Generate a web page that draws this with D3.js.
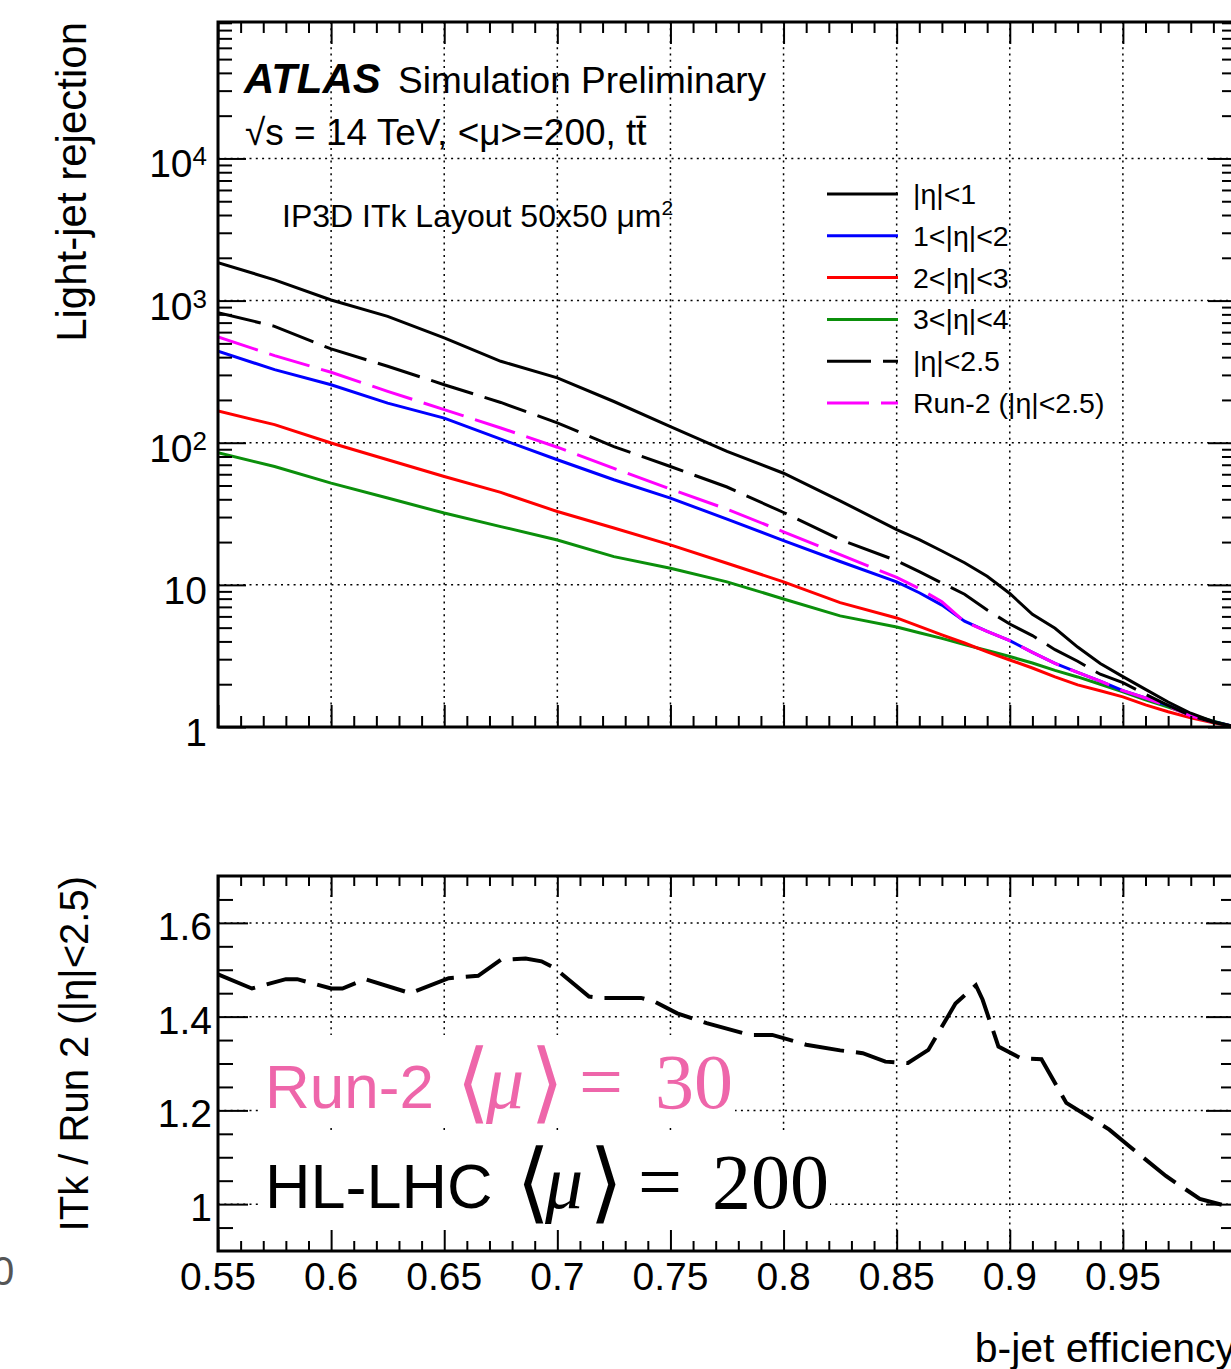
<!DOCTYPE html>
<html>
<head>
<meta charset="utf-8">
<script src="https://cdn.jsdelivr.net/npm/d3@7"></script>
<style>
  body { margin: 0; background: #fff; }
  svg { display: block; }
  text { font-family: "Liberation Sans", Arial, Helvetica, sans-serif; }
</style>
</head>
<body>
<div id="chart"></div>
<script>
// b-jet efficiency points shared by all curves of the upper panel
var effs = [0.55, 0.575, 0.6, 0.625, 0.65, 0.675, 0.7, 0.725, 0.75, 0.775, 0.8, 0.825, 0.85,
            0.86, 0.87, 0.88, 0.89, 0.9, 0.91, 0.92, 0.93, 0.94, 0.95, 0.96, 0.97, 0.98, 0.99, 1.0];
// light-jet rejection
var rejEta01 = [1850, 1400, 1010, 775, 546, 374, 286, 195, 130, 87, 61, 39, 24.5,
                20.8, 17.3, 14.3, 11.5, 8.7, 6.2, 4.95, 3.65, 2.8, 2.26, 1.84, 1.5, 1.25, 1.09, 1.0];
var rejEta12 = [440, 327, 256, 190, 149, 106, 75.9, 54.9, 40.8, 29, 20.5, 14.6, 10.5,
                8.8, 7.2, 5.55, 4.7, 4.05, 3.35, 2.8, 2.42, 2.1, 1.8, 1.6, 1.42, 1.22, 1.09, 1.0];
var rejEta23 = [167, 134, 99.5, 75.9, 57.9, 44.7, 32.8, 25.1, 19.1, 14.2, 10.5, 7.5, 5.85,
                5.1, 4.45, 3.9, 3.38, 2.96, 2.6, 2.25, 1.98, 1.8, 1.63, 1.43, 1.28, 1.16, 1.07, 1.0];
var rejEta34 = [85, 68, 52, 40.8, 32, 25.7, 20.7, 15.8, 13.1, 10.5, 7.96, 6.05, 5.05,
                4.6, 4.2, 3.8, 3.45, 3.13, 2.82, 2.5, 2.25, 2.0, 1.77, 1.55, 1.38, 1.22, 1.1, 1.0];
var rejEta025 = [823, 659, 457, 345, 256, 192, 138, 94, 68, 48.8, 32.3, 20.8, 14.8,
                 12.4, 10.3, 8.6, 6.65, 5.3, 4.4, 3.5, 2.9, 2.35, 2.05, 1.7, 1.42, 1.2, 1.08, 1.0];
var rejRun2 = [555, 410, 313, 230, 171, 127, 93, 66, 47.2, 34.1, 23.6, 16.3, 11.3,
               9.4, 7.6, 5.5, 4.7, 4.05, 3.35, 2.8, 2.42, 2.1, 1.8, 1.6, 1.4, 1.2, 1.08, 1.0];
var seriesNames = ["|\u03B7|<1", "1<|\u03B7|<2", "2<|\u03B7|<3", "3<|\u03B7|<4", "|\u03B7|<2.5", "Run-2 (|\u03B7|<2.5)"];

// ratio ITk / Run 2 in the lower panel
var ratioEffs = [0.55, 0.565, 0.58, 0.585, 0.6, 0.605, 0.615, 0.635, 0.652, 0.665, 0.675, 0.686, 0.693,
                 0.699, 0.714, 0.719, 0.737, 0.743, 0.753, 0.766, 0.785, 0.795, 0.81, 0.825, 0.835,
                 0.845, 0.855, 0.864, 0.876, 0.885, 0.888, 0.895, 0.905, 0.914, 0.925, 0.944, 0.953,
                 0.969, 0.984, 0.995];
var ratioVals = [1.49, 1.46, 1.48, 1.48, 1.46, 1.46, 1.48, 1.45, 1.482, 1.487, 1.521, 1.524, 1.518,
                 1.503, 1.443, 1.44, 1.44, 1.432, 1.407, 1.386, 1.361, 1.361, 1.34, 1.328, 1.322,
                 1.304, 1.301, 1.329, 1.428, 1.467, 1.436, 1.336, 1.311, 1.309, 1.216, 1.159, 1.123,
                 1.06, 1.011, 0.997];

// ticks and tick labels (the label of 1 falls outside the picture)
var xTicks = [0.55, 0.6, 0.65, 0.7, 0.75, 0.8, 0.85, 0.9, 0.95, 1.0];
var xTickLabels = ["0.55", "0.6", "0.65", "0.7", "0.75", "0.8", "0.85", "0.9", "0.95"];
var yTopTicks = [1, 10, 100, 1000, 10000];
var yTopTickBase = ["1", "10", "10", "10", "10"];
var yTopTickExp = ["", "", "2", "3", "4"];
var yBotTicks = [1.0, 1.2, 1.4, 1.6];
var yBotTickLabels = ["1", "1.2", "1.4", "1.6"];

(function(){
    var svg;
    var FONT = '"Liberation Sans", Arial, Helvetica, sans-serif';
    var SERIF = '"Liberation Serif", "Times New Roman", serif';

    var Chart = {
        dim: { w: 1231, h: 1369, left: 218, right: 1236,
               top0: 22, top1: 727, bot0: 876, bot1: 1251 },
        init: function() {
            svg = d3.select("#chart").append("svg")
                .attr("width", this.dim.w)
                .attr("height", this.dim.h);
            this.x = d3.scaleLinear().domain([0.55, 1.0]).range([this.dim.left, this.dim.right]);
            this.yTop = d3.scaleLog().domain([1, Math.pow(10, 4.96)]).range([this.dim.top1, this.dim.top0]);
            this.yBot = d3.scaleLinear().domain([0.9, 1.7]).range([this.dim.bot1, this.dim.bot0]);
            this.drawTop();
            this.drawBottom();
            this.drawTitles();
        },
        // dotted grid at the major ticks
        grid: function(g, xs, ys, yScale, y0, y1) {
            var x = this.x, d = this.dim;
            g.selectAll("line.gx").data(xs).enter().append("line")
                .attr("x1", function(v){ return x(v); }).attr("x2", function(v){ return x(v); })
                .attr("y1", y0).attr("y2", y1);
            g.selectAll("line.gy").data(ys).enter().append("line")
                .attr("x1", d.left).attr("x2", d.right)
                .attr("y1", function(v){ return yScale(v); }).attr("y2", function(v){ return yScale(v); });
            g.selectAll("line").attr("stroke", "#000").attr("stroke-width", 1.5)
                .attr("stroke-dasharray", "2,4.3");
        },
        // inward ticks on all four sides, using d3 axes without labels
        ticks: function(yScale, yMajor, yMinor, y0, y1, xLen, yLen) {
            var x = this.x, d = this.dim;
            var xMinor = d3.range(56, 100).filter(function(v){ return v % 5 !== 0; })
                .map(function(v){ return v / 100; });
            var axes = [
                [d3.axisTop(x).tickValues(xTicks).tickSize(xLen[0]), "translate(0," + y1 + ")"],
                [d3.axisTop(x).tickValues(xMinor).tickSize(xLen[1]), "translate(0," + y1 + ")"],
                [d3.axisBottom(x).tickValues(xTicks).tickSize(xLen[0]), "translate(0," + y0 + ")"],
                [d3.axisBottom(x).tickValues(xMinor).tickSize(xLen[1]), "translate(0," + y0 + ")"],
                [d3.axisRight(yScale).tickValues(yMajor).tickSize(yLen[0]), "translate(" + d.left + ",0)"],
                [d3.axisRight(yScale).tickValues(yMinor).tickSize(yLen[1]), "translate(" + d.left + ",0)"],
                [d3.axisLeft(yScale).tickValues(yMajor).tickSize(yLen[0]), "translate(" + d.right + ",0)"],
                [d3.axisLeft(yScale).tickValues(yMinor).tickSize(yLen[1]), "translate(" + d.right + ",0)"]
            ];
            axes.forEach(function(a){
                var g = svg.append("g").attr("transform", a[1]).call(a[0].tickFormat(""));
                g.select(".domain").remove();
                g.selectAll("line").attr("stroke", "#000").attr("stroke-width", 2);
            });
            svg.append("rect")
                .attr("x", d.left).attr("y", y0)
                .attr("width", d.right - d.left).attr("height", y1 - y0)
                .attr("fill", "none").attr("stroke", "#000").attr("stroke-width", 3);
        },
        drawTop: function() {
            var x = this.x, y = this.yTop, d = this.dim;
            this.grid(svg.append("g"), xTicks.slice(1, 9), [10, 100, 1000, 10000], y, d.top0, d.top1);

            // curves
            var styles = [
                { vals: rejEta01, color: "#000000", dash: null },
                { vals: rejEta12, color: "#0000ff", dash: null },
                { vals: rejEta23, color: "#ff0000", dash: null },
                { vals: rejEta34, color: "#0b8f0b", dash: null },
                { vals: rejEta025, color: "#000000", dash: "44,12" },
                { vals: rejRun2, color: "#ff00ff", dash: "42,12" }
            ];
            svg.append("clipPath").attr("id", "clipTop").append("rect")
                .attr("x", d.left).attr("y", d.top0)
                .attr("width", d.right - d.left).attr("height", d.top1 - d.top0);
            var line = d3.line()
                .x(function(p){ return x(p[0]); })
                .y(function(p){ return y(p[1]); });
            var order = [3, 2, 1, 5, 4, 0];
            svg.append("g").attr("clip-path", "url(#clipTop)")
                .selectAll("path").data(order.map(function(i){ return styles[i]; }))
                .enter().append("path")
                .attr("d", function(s){ return line(d3.zip(effs, s.vals)); })
                .attr("fill", "none")
                .attr("stroke", function(s){ return s.color; })
                .attr("stroke-width", 3)
                .attr("stroke-dasharray", function(s){ return s.dash; });

            // legend
            var leg = svg.append("g").selectAll("g").data(styles).enter().append("g")
                .attr("transform", function(s, i){ return "translate(827," + (194 + i * 41.8) + ")"; });
            leg.append("line").attr("x1", 0).attr("x2", 71).attr("y1", 0).attr("y2", 0)
                .attr("stroke", function(s){ return s.color; })
                .attr("stroke-width", 3)
                .attr("stroke-dasharray", function(s){ return s.dash; });
            leg.append("text").attr("x", 86).attr("y", 10)
                .attr("font-size", 28.5)
                .text(function(s, i){ return seriesNames[i]; });

            // y labels with exponents
            var minor = [];
            [0, 1, 2, 3, 4].forEach(function(e){
                for (var m = 2; m <= 9; m++) {
                    var v = m * Math.pow(10, e);
                    if (v < Math.pow(10, 4.96)) minor.push(v);
                }
            });
            var lab = svg.append("g").selectAll("text").data(yTopTicks).enter().append("text")
                .attr("x", 207).attr("y", function(v){ return y(v) + 19; })
                .attr("text-anchor", "end").attr("font-size", 39);
            lab.append("tspan").text(function(v, i){ return yTopTickBase[i]; });
            lab.append("tspan").attr("font-size", 26).attr("dy", -12)
                .text(function(v, i){ return yTopTickExp[i]; });

            this.ticks(y, yTopTicks, minor, d.top0, d.top1, [22, 11], [28, 14]);
        },
        drawBottom: function() {
            var x = this.x, y = this.yBot, d = this.dim;
            this.grid(svg.append("g"), xTicks.slice(1, 9), yBotTicks, y, d.bot0, d.bot1);

            // white boxes behind the annotations
            svg.append("rect").attr("x", 258).attr("y", 1035).attr("width", 477).attr("height", 93).attr("fill", "#fff");
            svg.append("rect").attr("x", 258).attr("y", 1133).attr("width", 572).attr("height", 118).attr("fill", "#fff");

            var pink = "#ee66aa";
            var notes = [
                { t: "Run-2", x: 265, y: 1108, f: FONT, s: 62, c: pink },
                { t: "\u27E8", x: 456, y: 1112, f: SERIF, s: 88, c: pink },
                { t: "\u03BC", x: 486, y: 1108, f: SERIF, s: 76, c: pink, it: true },
                { t: "\u27E9", x: 530, y: 1112, f: SERIF, s: 88, c: pink },
                { t: "=", x: 579, y: 1108, f: SERIF, s: 78, c: pink },
                { t: "30", x: 655, y: 1108, f: SERIF, s: 78, c: pink },
                { t: "HL-LHC", x: 265, y: 1208, f: FONT, s: 63, c: "#000" },
                { t: "\u27E8", x: 516, y: 1212, f: SERIF, s: 88, c: "#000" },
                { t: "\u03BC", x: 545, y: 1208, f: SERIF, s: 76, c: "#000", it: true },
                { t: "\u27E9", x: 589, y: 1212, f: SERIF, s: 88, c: "#000" },
                { t: "=", x: 638, y: 1208, f: SERIF, s: 78, c: "#000" },
                { t: "200", x: 712, y: 1208, f: SERIF, s: 78, c: "#000" }
            ];
            svg.append("g").selectAll("text").data(notes).enter().append("text")
                .attr("x", function(n){ return n.x; }).attr("y", function(n){ return n.y; })
                .attr("font-size", function(n){ return n.s; })
                .attr("fill", function(n){ return n.c; })
                .style("font-family", function(n){ return n.f; })
                .style("font-style", function(n){ return n.it ? "italic" : "normal"; })
                .text(function(n){ return n.t; });

            // ratio curve
            svg.append("clipPath").attr("id", "clipBot").append("rect")
                .attr("x", d.left).attr("y", d.bot0)
                .attr("width", d.right - d.left).attr("height", d.bot1 - d.bot0);
            var line = d3.line()
                .x(function(p){ return x(p[0]); })
                .y(function(p){ return y(p[1]); });
            svg.append("path").attr("clip-path", "url(#clipBot)")
                .attr("d", line(d3.zip(ratioEffs, ratioVals)))
                .attr("fill", "none").attr("stroke", "#000")
                .attr("stroke-width", 4).attr("stroke-dasharray", "40,12");

            var minor = d3.range(19, 34).filter(function(v){ return v % 4 !== 0; })
                .map(function(v){ return v / 20; });
            this.ticks(y, yBotTicks, minor, d.bot0, d.bot1, [21, 10], [30, 15]);

            // tick labels
            svg.append("g").selectAll("text").data(yBotTicks).enter().append("text")
                .attr("x", 212).attr("y", function(v){ return y(v) + 17; })
                .attr("text-anchor", "end").attr("font-size", 39)
                .text(function(v, i){ return yBotTickLabels[i]; });
            svg.append("g").selectAll("text").data(xTickLabels).enter().append("text")
                .attr("x", function(v, i){ return x(xTicks[i]); }).attr("y", 1290)
                .attr("text-anchor", "middle").attr("font-size", 39)
                .text(function(v){ return v; });
        },
        drawTitles: function() {
            // ATLAS label
            var t = svg.append("text").attr("x", 244).attr("y", 93);
            t.append("tspan").attr("font-size", 42).attr("font-weight", "bold")
                .attr("font-style", "italic").text("ATLAS");
            t.append("tspan").attr("x", 398).attr("font-size", 37).text("Simulation Preliminary");
            svg.append("text").attr("x", 245).attr("y", 145).attr("font-size", 37)
                .text("\u221As = 14 TeV, <\u03BC>=200, tt\u0304");
            var ip = svg.append("text").attr("x", 282).attr("y", 227).attr("font-size", 32);
            ip.append("tspan").text("IP3D ITk Layout 50x50 \u03BCm");
            ip.append("tspan").attr("font-size", 21).attr("dy", -12).text("2");

            // axis titles
            svg.append("text").attr("transform", "translate(86,22) rotate(-90)")
                .attr("text-anchor", "end").attr("font-size", 42).text("Light-jet rejection");
            svg.append("text").attr("transform", "translate(88,876) rotate(-90)")
                .attr("text-anchor", "end").attr("font-size", 40).text("ITk / Run 2 (|\u03B7|<2.5)");
            svg.append("text").attr("x", 1236).attr("y", 1362)
                .attr("text-anchor", "end").attr("font-size", 41).text("b-jet efficiency");
            // stray label piece at the left edge
            svg.append("text").attr("x", -8).attr("y", 1285)
                .attr("font-size", 40).attr("fill", "#555").text("0");
        }
    };

    window.addEventListener('load', function(){ Chart.init(); }, false);
})();
</script>
</body>
</html>
